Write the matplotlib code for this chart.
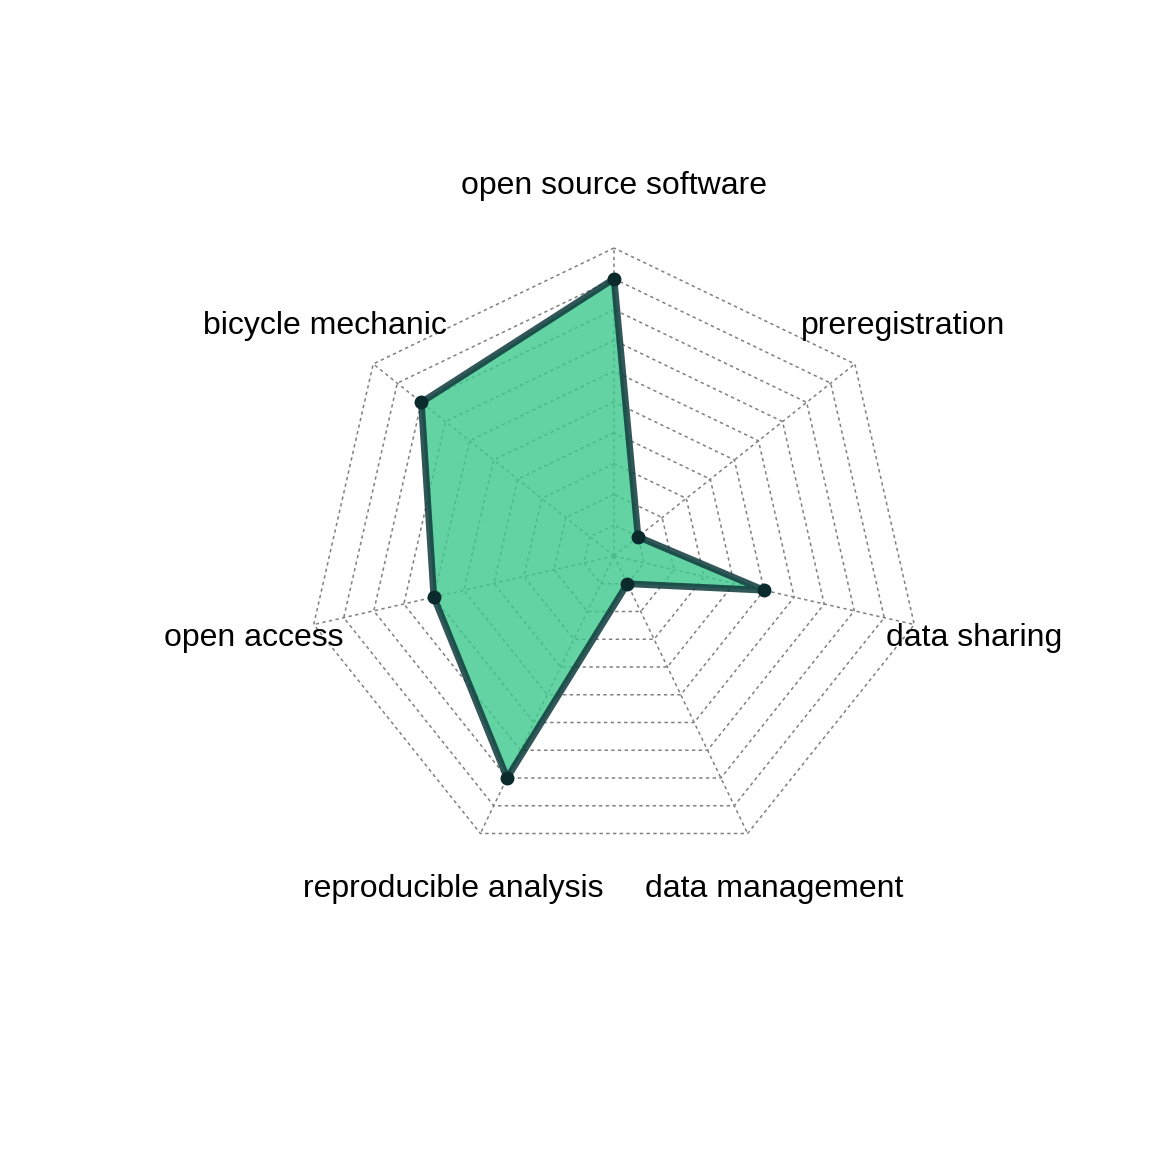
import numpy as np
import matplotlib
matplotlib.use('Agg')
import matplotlib.pyplot as plt

plt.rcParams['font.family'] = ['Liberation Sans', 'DejaVu Sans']

# skills, counter-clockwise from the top
skills = ['open source software', 'bicycle mechanic', 'open access',
          'reproducible analysis', 'data management', 'data sharing',
          'preregistration']
scores = [9, 8, 6, 8, 1, 5, 1]
max_score = 10
n_rings = 10

n = len(skills)
ang = np.pi / 2 + 2 * np.pi * np.arange(n) / n
cx, cy = np.cos(ang), np.sin(ang)

fig = plt.figure(figsize=(11.52, 11.52), dpi=100)
ax = fig.add_axes([0, 0, 1, 1])
ax.set_xlim(-614 / 308, (1152 - 614) / 308)
ax.set_ylim(-(1152 - 556) / 308, 556 / 308)
ax.set_aspect('equal')
ax.axis('off')

grid_kw = dict(color='#808080', lw=1.1, linestyle=(0, (2.2, 2.2)), zorder=1)
# rings
for k in range(1, n_rings + 1):
    r = k / n_rings
    ax.plot(np.append(cx, cx[0]) * r, np.append(cy, cy[0]) * r, **grid_kw)
# spokes
for i in range(n):
    ax.plot([0, cx[i]], [0, cy[i]], **grid_kw)

r = np.array(scores) / max_score
px, py = cx * r, cy * r
ax.fill(px, py, color='#3cc98c', alpha=0.8, lw=0, zorder=2)
ax.plot(np.append(px, px[0]), np.append(py, py[0]), color='#0f3a3c',
        alpha=0.85, lw=4.8, zorder=3, solid_joinstyle='round')
ax.plot(px, py, 'o', color='#0a2a2c', ms=9, zorder=4)

for i, s in enumerate(skills):
    ax.text(cx[i] * 1.2, cy[i] * 1.2, s, ha='center', va='center',
            fontsize=23, color='black')

fig.savefig('out.png', dpi=100)
